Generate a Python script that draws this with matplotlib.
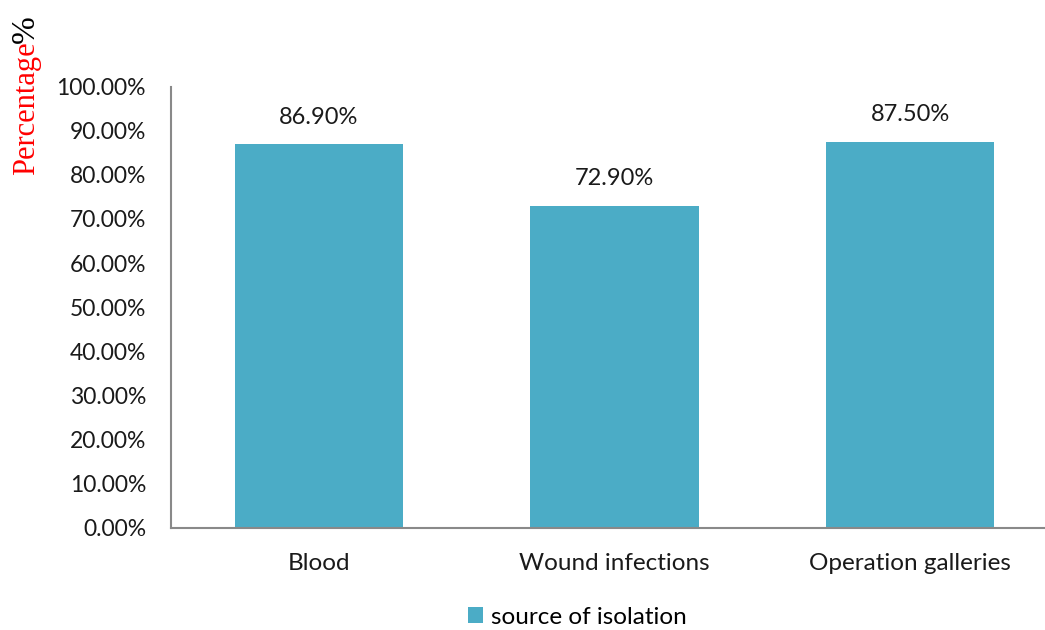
import matplotlib
matplotlib.use("Agg")
import matplotlib.pyplot as plt
import numpy as np
from matplotlib.ticker import PercentFormatter

categories = ["Blood", "Wound infections", "Operation galleries"]
values = [86.9, 72.9, 87.5]
yticks = [0, 10, 20, 30, 40, 50, 60, 70, 80, 90, 100]
series_name = "source of isolation"

BAR = "#4BACC6"
AXIS = "#898989"

plt.rcParams["font.family"] = ["Lato", "DejaVu Sans"]

fig = plt.figure(figsize=(10.45, 6.3), dpi=100)
# axes right edge runs past the figure like the original
ax = fig.add_axes([171 / 1045, 1 - 528 / 630, 887 / 1045, (528 - 86.5) / 630])

x = np.arange(len(categories))
bars = ax.bar(x, values, width=0.57, color=BAR, label=series_name, zorder=2)
for b, v in zip(bars, values):
    ax.annotate(f"{v:.2f}%", (b.get_x() + b.get_width() / 2, v),
                xytext=(0, 12), textcoords="offset points",
                ha="center", va="bottom", fontsize=17, color="#1a1a1a")

ax.set_xlim(-0.5, 2.5)
ax.set_ylim(0, 100)
ax.set_yticks(yticks)
ax.yaxis.set_major_formatter(PercentFormatter(decimals=2))
ax.set_xticks(x)
ax.set_xticklabels(categories, fontsize=17.5)
ax.tick_params(axis="y", length=0, labelsize=16.5, colors="#1a1a1a", pad=18)
ax.tick_params(axis="x", length=0, colors="#1a1a1a", pad=18)

for s in ("top", "right"):
    ax.spines[s].set_visible(False)
for s in ("left", "bottom"):
    ax.spines[s].set_color(AXIS)
    ax.spines[s].set_linewidth(1.5)

# y label: red "Percentage" + black "%"
fig.text(27 / 1045, 1 - 175 / 630, "Percentage", rotation=90, color="red",
         family="Liberation Serif", fontsize=22, ha="center", va="bottom")
fig.text(26 / 1045, 1 - 43 / 630, "%", rotation=90, color="black",
         family="Liberation Serif", fontsize=24, ha="center", va="bottom")

fig.legend(handles=[bars], labels=[series_name], loc="center",
           bbox_to_anchor=(577 / 1045, 1 - 617 / 630), frameon=False, fontsize=17.5,
           handlelength=0.65, handleheight=0.65, handletextpad=0.3)

fig.savefig("out.png", dpi=100)
